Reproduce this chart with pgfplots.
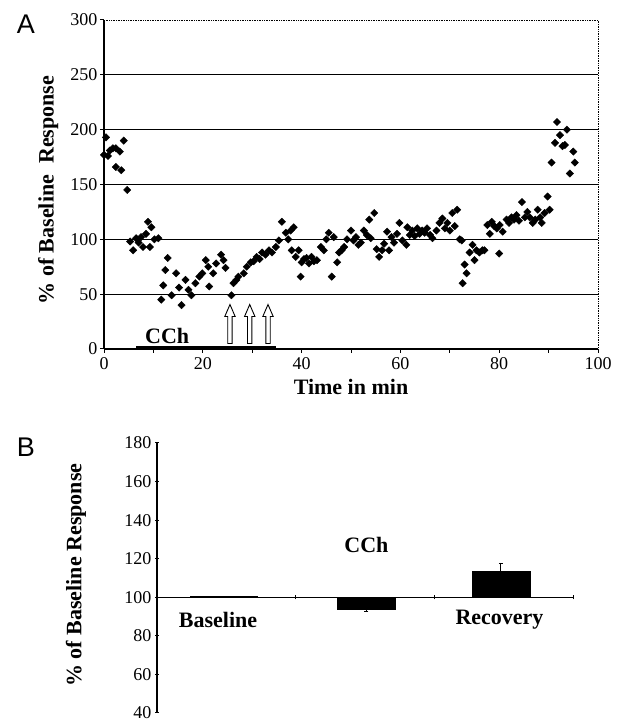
\documentclass[border=0pt]{standalone}
\usepackage{fontspec}
\setmainfont{Liberation Serif}
\newfontfamily\sansA{Liberation Sans}
\usepackage{pgfplots}
\pgfplotsset{compat=1.18}
\pgfplotstableread{
t v
0.0 177
0.4 193
0.8 176
1.2 181
1.8 183
2.4 183
2.4 166
3.2 180
3.5 163
4.0 190
4.7 145
5.3 98
5.9 90
6.5 101
7.0 97
7.5 102
7.9 93
8.5 105
8.9 116
9.3 93
9.6 111
10.2 100
11.0 101
11.6 45
12.0 58
12.4 72
12.9 83
13.7 49
14.6 69
15.2 56
15.7 40
16.5 63
17.1 54
17.7 49
18.5 60
19.3 66
19.9 69
20.6 81
21.1 75
21.3 57
22.1 69
22.7 78
23.7 86
24.2 81
24.6 74
25.8 49
26.2 60
26.8 63
27.2 66
28.3 69
28.9 75
29.7 79
30.3 80
30.9 84
31.5 82
32.0 88
32.7 86
33.4 90
34.0 88
34.8 93
35.4 99
36.0 116
36.8 106
37.3 100
37.8 108
38.0 90
38.4 111
38.8 84
39.4 90
39.8 66
40.0 79
40.5 82
41.0 83
41.5 78
42.0 84
42.5 80
43.1 81
43.9 93
44.5 90
45.0 100
45.5 106
46.1 66
46.5 102
47.2 79
47.6 88
48.1 90
48.6 93
49.2 100
50.0 108
50.5 99
51.0 102
51.5 95
52.0 97
52.6 108
53.2 104
53.7 118
54.0 101
54.7 124
55.2 91
55.7 84
56.3 90
56.7 96
57.3 107
57.7 90
58.2 102
58.7 97
59.3 105
59.8 115
60.4 99
61.2 95
61.4 111
61.9 104
62.4 108
62.9 103
63.4 110
63.9 105
64.4 108
64.9 106
65.4 110
66.0 104
66.5 101
67.3 108
67.9 115
68.5 119
69.0 110
69.5 115
70.0 108
70.5 124
71.0 112
71.5 127
72.0 100
72.4 99
72.6 60
73.0 77
73.4 69
74.0 88
74.6 95
75.0 81
75.4 90
76.0 88
76.6 90
77.0 90
77.6 113
78.1 105
78.5 116
79.0 112
79.5 110
80.0 87
80.1 113
80.7 107
81.5 118
82.0 115
82.5 120
83.0 118
83.5 122
84.0 117
84.6 134
85.2 120
85.7 125
86.2 120
86.8 115
87.3 118
87.8 127
88.3 120
88.6 115
89.2 124
89.8 139
90.2 127
90.6 170
91.3 188
91.7 207
92.3 195
92.8 185
93.3 186
93.7 200
94.3 160
95.0 180
95.3 170
}\dataA
\begin{document}
\begin{tikzpicture}[x=1pt,y=1pt]
\path[use as bounding box] (0,0) rectangle (631,723);
\node[font=\sansA\fontsize{27}{29}\selectfont] at (26,699) {A};
\node[font=\sansA\fontsize{27}{29}\selectfont] at (26,276) {B};

\begin{axis}[
  at={(104pt,374pt)}, anchor=south west, scale only axis,
  width=494pt, height=329pt,
  xmin=0, xmax=100, ymin=0, ymax=300, enlargelimits=false,
  axis lines=left,
  axis line style={-, line width=1.2pt},
  y axis line style={line width=2pt},
  xtick={0,20,...,100}, minor xtick={10,30,...,90},
  ytick={0,50,...,300},
  tick align=outside, major tick length=4pt, minor tick length=4pt,
  tick style={black, line width=1pt},
  tick label style={font=\fontsize{18}{20}\selectfont},
  xticklabel style={yshift=-1pt},
  yticklabel style={xshift=1pt},
  /pgf/number format/assume math mode=true,
  xlabel={Time in min},
  ylabel={\% of Baseline\hspace{0.5em}Response},
  label style={font=\bfseries\fontsize{22}{24}\selectfont},
  xlabel style={at={(axis description cs:0.5,0)}, anchor=center, yshift=-38pt},
  ylabel style={at={(axis description cs:-0.113,0.483)}, anchor=center},
  clip=false,
]
\draw[line width=1.2pt] (axis cs:0,50) -- (axis cs:100,50);
\draw[line width=1.2pt] (axis cs:0,100) -- (axis cs:100,100);
\draw[line width=1.2pt] (axis cs:0,150) -- (axis cs:100,150);
\draw[line width=1.2pt] (axis cs:0,200) -- (axis cs:100,200);
\draw[line width=1.2pt] (axis cs:0,250) -- (axis cs:100,250);
\draw[densely dotted, line width=0.7pt] (axis cs:0,300) -- (axis cs:100,300) -- (axis cs:100,0);
\addplot[only marks, mark=square*, mark size=2.6pt,
  mark options={rotate=45, fill=black, draw=black}] table[x=t, y=v] {\dataA};
\draw[line width=2pt] (axis cs:6.5,1.5) -- (axis cs:34.8,1.5);
\node[font=\bfseries\fontsize{22}{24}\selectfont] at (axis cs:12.8,12) {CCh};
\pgfplotsinvokeforeach{25.5,29.5,33.2}{
  \draw[fill=white, line width=0.9pt] (axis cs:#1,5) ++(-2.2pt,0) -- ++(0,27pt) -- ++(-3pt,0)
    -- ++(5.2pt,12pt) -- ++(5.2pt,-12pt) -- ++(-3pt,0) -- ++(0,-27pt) -- cycle;
}
\end{axis}

\begin{axis}[
  at={(157pt,10pt)}, anchor=south west, scale only axis,
  width=416pt, height=270pt,
  xmin=0, xmax=3, ymin=-60, ymax=80, enlargelimits=false,
  axis x line=middle, axis y line=left,
  axis line style={-, line width=1.5pt},
  hide obscured x ticks=false, hide obscured y ticks=false,
  xtick={1,2,3}, xticklabels={},
  ytick={-60,-40,...,80},
  yticklabels={40,60,80,100,120,140,160,180},
  tick align=center, major tick length=4pt,
  tick style={black, line width=1pt},
  tick label style={font=\fontsize{18}{20}\selectfont},
  ylabel={\% of Baseline Response},
  label style={font=\bfseries\fontsize{22}{24}\selectfont},
  ylabel style={at={(axis description cs:-0.195,0.511)}, anchor=center, rotate=0},
  clip=false,
]
\addplot[ybar, bar width=67pt, bar shift=0pt, fill=black, draw=black] coordinates {(0.48,0.8)};
\addplot[ybar, bar width=58pt, bar shift=0pt, fill=black, draw=black,
  error bars/.cd, y dir=minus, y explicit, error bar style={black, line width=0.8pt}]
  coordinates {(1.51,-6.3) +- (0,1.0)};
\addplot[ybar, bar width=58pt, bar shift=0pt, fill=black, draw=black,
  error bars/.cd, y dir=plus, y explicit, error bar style={black, line width=0.8pt}]
  coordinates {(2.48,13.7) +- (0,4.2)};
\node[font=\bfseries\fontsize{22}{24}\selectfont] at (axis cs:0.44,-11.8) {Baseline};
\node[font=\bfseries\fontsize{22}{24}\selectfont] at (axis cs:1.51,27.1) {CCh};
\node[font=\bfseries\fontsize{22}{24}\selectfont] at (axis cs:2.47,-11.8) {Recovery};
\end{axis}
\end{tikzpicture}
\end{document}
